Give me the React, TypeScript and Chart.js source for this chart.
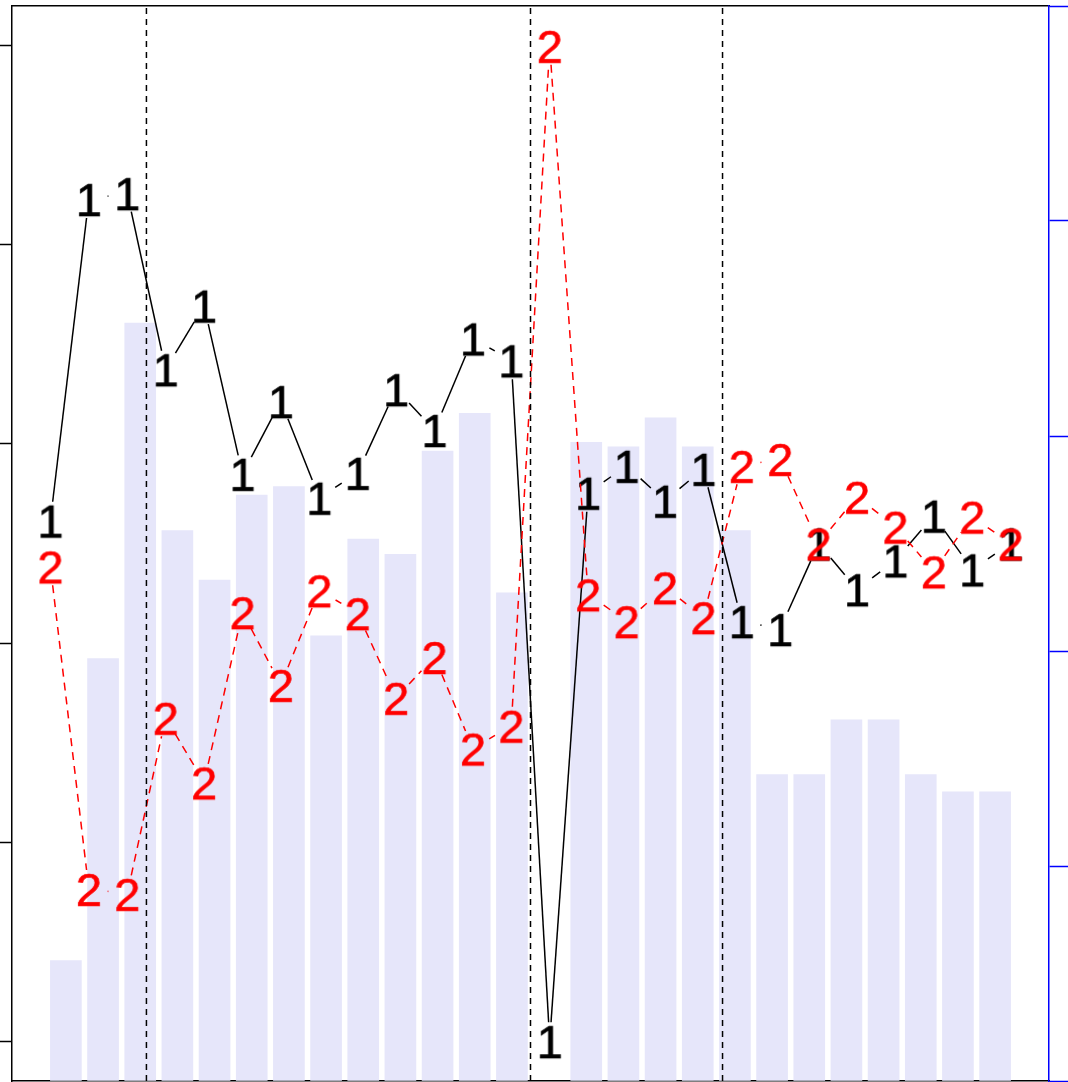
import { useEffect, useRef } from 'react';
import { Chart, registerables } from 'chart.js';

Chart.register(...registerables);

// ---- data ----
const positions: number[] = Array.from({ length: 26 }, (_, i) => i + 1);
const series1: number[] = [52.3, 84.6, 85.2, 67.5, 73.9, 57.0, 64.3, 54.6, 57.1, 65.5, 61.4, 70.6, 68.4, 0, 55.1, 57.8, 54.3, 57.5, 42.2, 41.4, 50.0, 45.4, 48.3, 52.8, 47.4, 50.0];
const series2: number[] = [47.7, 15.3, 14.8, 32.5, 26.0, 43.1, 35.8, 45.3, 43.0, 34.5, 38.6, 29.4, 31.7, 100, 44.9, 42.2, 45.6, 42.6, 57.8, 58.5, 50.0, 54.7, 51.7, 47.2, 52.7, 50.0];
const barValues: (number | null)[] = [11.2, 39.3, 70.5, 51.2, 46.6, 54.5, 55.3, 41.4, 50.4, 49.0, 58.6, 62.1, 45.4, null, 59.4, 59.0, 61.7, 59.0, 51.2, 28.5, 28.5, 33.6, 33.6, 28.5, 26.9, 26.9];
const breakPositions: number[] = [3.5, 13.5, 18.5];
const leftTicks: number[] = [0, 20, 40, 60, 80, 100];
const rightTicks: number[] = [0, 20, 40, 60, 80, 100];

// ---- style ----
const FONT_PX = 47;
const GAP = 19;

function glyph(ch: string, color: string): HTMLCanvasElement {
  const c = document.createElement('canvas');
  c.width = 60;
  c.height = 60;
  const g = c.getContext('2d')!;
  g.font = `${FONT_PX}px "Liberation Sans", Arial, sans-serif`;
  g.fillStyle = color;
  g.strokeStyle = color;
  g.lineWidth = 0.7;
  g.textAlign = 'center';
  g.textBaseline = 'alphabetic';
  g.fillText(ch, 30, 30 + FONT_PX * 0.358);
  g.strokeText(ch, 30, 30 + FONT_PX * 0.358);
  return c;
}

const gapStyles: Record<string, { color: string; width: number; dash: number[] }> = {
  s1: { color: '#000000', width: 1.5, dash: [] },
  s2: { color: '#FF0000', width: 1.5, dash: [8, 6] },
};

const gapLinesPlugin = {
  id: 'gapLines',
  beforeDatasetDraw(chart: any, args: any) {
    const ds = chart.data.datasets[args.index];
    const st = gapStyles[ds.label];
    if (!st) return;
    const pts = args.meta.data;
    const { ctx, chartArea: a } = chart;
    ctx.save();
    ctx.beginPath();
    ctx.rect(a.left, a.top, a.right - a.left, a.bottom - a.top);
    ctx.clip();
    ctx.strokeStyle = st.color;
    ctx.lineWidth = st.width;
    ctx.lineCap = 'butt';
    ctx.setLineDash(st.dash);
    for (let i = 0; i < pts.length - 1; i++) {
      const p = pts[i];
      const q = pts[i + 1];
      const dx = q.x - p.x;
      const dy = q.y - p.y;
      const d = Math.hypot(dx, dy);
      if (d <= 2 * GAP) continue;
      const ux = dx / d;
      const uy = dy / d;
      ctx.beginPath();
      ctx.lineDashOffset = 0;
      ctx.moveTo(p.x + ux * GAP, p.y + uy * GAP);
      ctx.lineTo(q.x - ux * GAP, q.y - uy * GAP);
      ctx.stroke();
    }
    ctx.restore();
  },
};

export default function App() {
  const ref = useRef<HTMLCanvasElement>(null);

  useEffect(() => {
    const canvas = ref.current!;
    const g1 = glyph('1', '#000000');
    const g2 = glyph('2', '#FF0000');

    const barData = barValues.map((v, i) => ({ x: 0.7 + 1.2 * i, y: v }));
    const s1Data = positions.map((p, i) => ({ x: p, y: series1[i] }));
    const s2Data = positions.map((p, i) => ({ x: p, y: series2[i] }));

    const vlineSets = breakPositions.map((b, i) => ({
      type: 'line' as const,
      label: 'break' + i,
      data: [{ x: b, y: -4 }, { x: b, y: 104 }],
      xAxisID: 'x',
      yAxisID: 'y',
      borderColor: '#000000',
      borderWidth: 1.5,
      borderDash: [6, 5],
      pointRadius: 0,
      order: 0,
    }));

    const tickSetter = (vals: number[]) => (scale: any) => {
      scale.ticks = vals.map((v) => ({ value: v }));
    };

    const chart = new Chart(canvas, {
      type: 'bar',
      data: {
        datasets: [
          {
            type: 'bar',
            label: 'bars',
            data: barData as any,
            xAxisID: 'xb',
            yAxisID: 'y1',
            backgroundColor: '#E6E6FA',
            borderWidth: 0,
            barThickness: 31,
            grouped: false,
            order: 10,
          },
          {
            type: 'line',
            label: 's1',
            data: s1Data,
            xAxisID: 'x',
            yAxisID: 'y',
            showLine: false,
            pointStyle: g1 as any,
            pointRadius: 1,
            pointBorderWidth: 0,
            borderWidth: 0,
            borderColor: '#000000',
            order: 3,
          },
          {
            type: 'line',
            label: 's2',
            data: s2Data,
            xAxisID: 'x',
            yAxisID: 'y',
            showLine: false,
            pointStyle: g2 as any,
            pointRadius: 1,
            pointBorderWidth: 0,
            borderWidth: 0,
            borderColor: '#FF0000',
            order: 2,
          },
          ...vlineSets,
        ] as any,
      },
      options: {
        responsive: false,
        devicePixelRatio: 1,
        animation: false,
        events: [],
        layout: { autoPadding: false, padding: { top: 6, bottom: 1, left: 0, right: 0 } },
        plugins: {
          legend: { display: false },
          tooltip: { enabled: false },
        },
        scales: {
          x: {
            type: 'linear',
            position: 'bottom',
            offset: false,
            min: 0,
            max: 27,
            grid: { display: false, drawTicks: false, offset: false },
            ticks: { display: false },
            border: { display: true, color: '#000000', width: 1.5 },
            z: 1,
          },
          xt: {
            type: 'linear',
            position: 'top',
            offset: false,
            min: 0,
            max: 27,
            grid: { display: false, drawTicks: false, offset: false },
            ticks: { display: false },
            border: { display: true, color: '#000000', width: 1.5 },
            z: 1,
          },
          xb: {
            type: 'linear',
            display: false,
            offset: false,
            grid: { offset: false },
            min: -1.04,
            max: 32.44,
          },
          y: {
            type: 'linear',
            position: 'left',
            min: -4,
            max: 104,
            afterBuildTicks: tickSetter(leftTicks),
            grid: {
              display: true,
              drawOnChartArea: false,
              drawTicks: true,
              tickLength: 12,
              tickColor: '#000000',
              tickWidth: 1.5,
            },
            ticks: { display: false },
            border: { display: true, color: '#000000', width: 1.5 },
            z: 1,
          },
          y1: {
            type: 'linear',
            position: 'right',
            min: 0,
            max: 100,
            afterBuildTicks: tickSetter(rightTicks),
            grid: {
              display: true,
              drawOnChartArea: false,
              drawTicks: true,
              tickLength: 19,
              tickColor: '#0000FF',
              tickWidth: 1.5,
            },
            ticks: { display: false },
            border: { display: true, color: '#0000FF', width: 1.5 },
            z: 1,
          },
        } as any,
      },
      plugins: [gapLinesPlugin as any],
    });

    return () => chart.destroy();
  }, []);

  return (
    <div style={{ position: 'absolute', left: 0, top: 0, width: 1068, height: 1082, background: '#ffffff' }}>
      <canvas ref={ref} width={1068} height={1082} style={{ display: 'block', width: 1068, height: 1082 }} />
    </div>
  );
}
